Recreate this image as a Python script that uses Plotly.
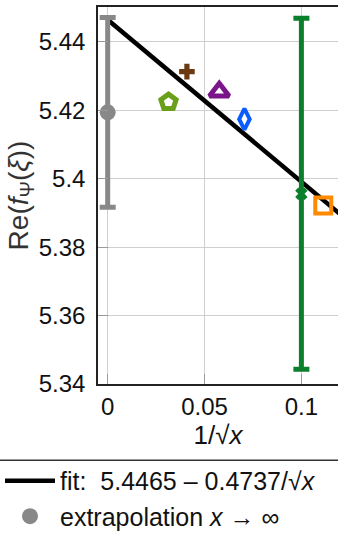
import plotly.graph_objects as go

# Measured values at finite 1/sqrt(x)
pts_x = [0.0314, 0.0409, 0.0576, 0.0706, 0.1000, 0.1113]
pts_y = [5.4224, 5.4313, 5.4254, 5.4174, 5.3956, 5.3922]
pts_err = [None, None, None, None, 0.0513, None]
pts_symbol = ["pentagon-open", "cross", "triangle-up-open", "diamond-tall-open", "x", "square-open"]
pts_color = ["#6a9f1a", "#6b3a12", "#7a168a", "#0a5cff", "#0b7f2c", "#ff8a00"]
pts_size = [16, 13, 17, 15, 11, 16]
pts_lw = [5, 0, 5, 4, 0, 4]

# Linear fit in 1/sqrt(x)
fit_a = 5.4465
fit_b = 0.4737
fit_x = [0.0, 0.13]

# Extrapolated value x -> infinity
extra_x = [0.0]
extra_y = [5.4194]
extra_err = [0.0277]

font_family = "Liberation Sans, Arial, sans-serif"

fig = go.Figure()

# Fit line
fig.add_trace(go.Scatter(
    x=fit_x, y=[fit_a - fit_b * v for v in fit_x], mode="lines",
    line=dict(color="black", width=4.5),
    name="fit:  5.4465 – 0.4737/√<i>x</i>",
))

# Individual measurements; the green point carries a large error bar
for i in range(len(pts_x)):
    err = pts_err[i]
    fig.add_trace(go.Scatter(
        x=[pts_x[i]], y=[pts_y[i]], mode="markers",
        marker=dict(symbol=pts_symbol[i], color=pts_color[i], size=pts_size[i],
                    line=dict(color=pts_color[i], width=pts_lw[i])),
        error_y=dict(type="data", array=[err], color=pts_color[i], thickness=5, width=8, visible=True)
        if err is not None else None,
        showlegend=False, cliponaxis=True,
    ))

fig.add_trace(go.Scatter(
    x=extra_x, y=extra_y, mode="markers",
    marker=dict(symbol="circle", color="#888888", size=16),
    error_y=dict(type="data", array=extra_err, color="#888888", thickness=5, width=8),
    name="extrapolation <i>x</i> → ∞",
))

axis_common = dict(
    showgrid=True, gridcolor="#cfcfcf", gridwidth=1.3,
    showline=True, linecolor="#222222", linewidth=1.5,
    zeroline=False, automargin=False,
    ticks="inside", ticklen=10, tickcolor="#9a9a9a", tickwidth=1.3,
    tickfont=dict(family=font_family, size=24, color="#111111"),
)

fig.update_xaxes(
    range=[-0.005, 0.1189], tickvals=[0, 0.05, 0.1], ticktext=["0", "0.05", "0.1"],
    mirror=True, ticklabelstandoff=0,
    title=dict(text="1/√<i>x</i>", font=dict(family=font_family, size=26, color="#111111"), standoff=0),
    **axis_common,
)
fig.update_yaxes(
    range=[5.34, 5.4502], tickvals=[5.34, 5.36, 5.38, 5.40, 5.42, 5.44],
    ticktext=["5.34", "5.36", "5.38", "5.4", "5.42", "5.44"],
    ticklabelstandoff=6,
    title=dict(text="Re(<i>f</i><sub>Ψ</sub>(<i>ξ</i>))", font=dict(family=font_family, size=28, color="#333333"), standoff=2),
    **axis_common,
)

fig.update_layout(
    width=338, height=540,
    margin=dict(l=98, r=0, t=7, b=156),
    plot_bgcolor="white", paper_bgcolor="white",
    font=dict(family=font_family, color="#111111"),
    showlegend=True,
    legend=dict(
        x=-0.41, y=-0.411, xanchor="left", yanchor="bottom",
        font=dict(family=font_family, size=25, color="#111111"),
        bgcolor="rgba(0,0,0,0)", itemwidth=50, tracegroupgap=0,
    ),
    shapes=[dict(type="line", xref="paper", yref="paper", x0=-0.5, x1=1.5,
                 y0=-0.202, y1=-0.202, line=dict(color="#333333", width=1.5))],
)

fig.write_html("out.html")
